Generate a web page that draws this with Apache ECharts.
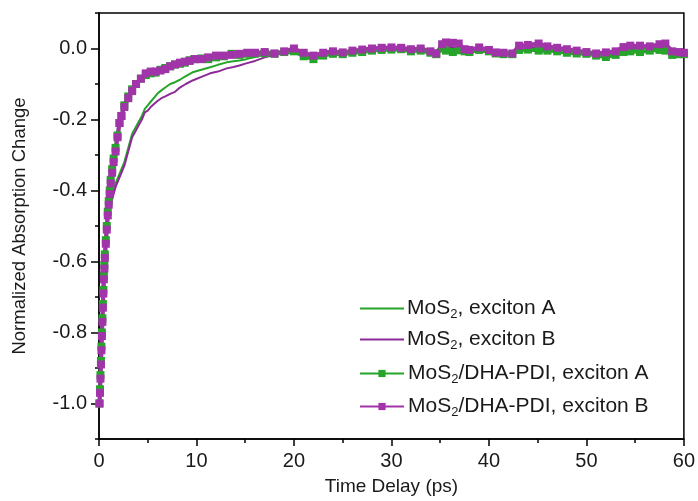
<!DOCTYPE html>
<html>
<head>
<meta charset="utf-8">
<script src="https://cdn.jsdelivr.net/npm/echarts@6/dist/echarts.min.js"></script>
<style>
html,body{margin:0;padding:0;background:#fff;}
#chart{width:698px;height:501px;}
</style>
</head>
<body>
<div id="chart"></div>
<script>
// ---- data (time in ps, normalized absorption change) ----
const seriesNames = ['MoS2, exciton A', 'MoS2, exciton B', 'MoS2/DHA-PDI, exciton A', 'MoS2/DHA-PDI, exciton B'];

const mos2A = [[0.05,-1.0],[0.15,-0.92],[0.25,-0.84],[0.35,-0.75],[0.45,-0.67],[0.55,-0.6],[0.7,-0.54],[0.85,-0.49],[1.0,-0.46],[1.2,-0.43],[1.4,-0.41],[1.7,-0.38],[2.0,-0.36],[2.3,-0.34],[2.6,-0.32],[3.0,-0.28],[3.4,-0.24],[3.7,-0.225],[4.0,-0.21],[4.4,-0.19],[4.7,-0.17],[5.0,-0.16],[5.3,-0.15],[5.7,-0.137],[6.0,-0.127],[6.4,-0.118],[6.8,-0.11],[7.3,-0.1],[7.8,-0.095],[8.3,-0.088],[8.9,-0.078],[9.6,-0.067],[10.5,-0.06],[11.4,-0.053],[12.2,-0.046],[13.1,-0.039],[13.8,-0.036],[14.4,-0.034],[15.1,-0.03],[16,-0.024],[17,-0.018],[18,-0.015],[19,-0.014],[20,-0.012],[22,-0.018],[24,-0.014],[26,-0.01],[28,-0.006],[30,-0.004],[32,-0.006],[34,-0.012],[36,0.0],[38,-0.008],[40,-0.01],[42,-0.014],[44,0.0],[46,-0.002],[48,-0.008],[50,-0.012],[52,-0.016],[54,-0.004],[56,0.0],[58,0.002],[60,-0.014]];

const mos2B = [[0.05,-1.0],[0.15,-0.93],[0.25,-0.85],[0.35,-0.76],[0.45,-0.68],[0.55,-0.61],[0.7,-0.55],[0.85,-0.5],[1.0,-0.47],[1.2,-0.44],[1.4,-0.42],[1.7,-0.39],[2.0,-0.37],[2.3,-0.35],[2.6,-0.33],[3.0,-0.29],[3.4,-0.25],[3.7,-0.235],[4.0,-0.22],[4.4,-0.2],[4.7,-0.18],[5.0,-0.175],[5.3,-0.165],[5.7,-0.155],[6.0,-0.148],[6.4,-0.14],[6.8,-0.135],[7.3,-0.128],[7.8,-0.122],[8.3,-0.11],[8.9,-0.1],[9.6,-0.09],[10.5,-0.08],[11.4,-0.07],[12.2,-0.065],[13.1,-0.056],[13.8,-0.052],[14.4,-0.048],[15.1,-0.042],[16,-0.035],[17,-0.025],[18,-0.018],[19,-0.014],[20,-0.012],[22,-0.016],[24,-0.012],[26,-0.008],[28,-0.004],[30,-0.002],[32,-0.004],[34,-0.01],[36,0.005],[38,-0.006],[40,-0.008],[42,-0.012],[44,0.004],[46,0.002],[48,-0.004],[50,-0.01],[52,-0.012],[54,0.0],[56,0.004],[58,0.006],[60,-0.012]];

const dhaA = [[0.05,-1.0],[0.1,-0.96],[0.15,-0.92],[0.2,-0.88],[0.25,-0.84],[0.3,-0.8],[0.35,-0.76],[0.4,-0.72],[0.45,-0.68],[0.5,-0.64],[0.55,-0.61],[0.6,-0.58],[0.7,-0.54],[0.8,-0.5],[0.9,-0.46],[1.0,-0.43],[1.1,-0.4],[1.2,-0.37],[1.35,-0.34],[1.5,-0.31],[1.7,-0.28],[1.9,-0.245],[2.1,-0.21],[2.3,-0.19],[2.6,-0.16],[3.0,-0.135],[3.4,-0.115],[3.8,-0.1],[4.3,-0.085],[4.8,-0.075],[5.3,-0.07],[5.8,-0.068],[6.3,-0.06],[6.8,-0.055],[7.3,-0.05],[7.8,-0.045],[8.3,-0.043],[8.8,-0.04],[9.3,-0.033],[9.8,-0.03],[10.5,-0.028],[11.2,-0.03],[12,-0.025],[12.8,-0.022],[13.6,-0.015],[14.4,-0.018],[15.2,-0.015],[16,-0.014],[17,-0.013],[18,-0.015],[19,-0.01],[20,-0.008],[21,-0.022],[22,-0.03],[23,-0.02],[24,-0.015],[25,-0.016],[26,-0.012],[27,-0.01],[28,-0.006],[29,-0.004],[30,-0.003],[31,-0.002],[32,-0.008],[33,-0.006],[34,-0.012],[34.6,-0.016],[35.2,0.0],[35.6,-0.006],[36.3,-0.01],[36.9,-0.005],[37.5,-0.008],[38,-0.01],[39,-0.004],[40,-0.008],[40.7,-0.014],[41.5,-0.016],[42.4,-0.016],[43.1,-0.004],[44,-0.003],[45.1,-0.006],[46,-0.006],[47,-0.008],[48,-0.012],[49,-0.014],[50,-0.015],[51,-0.02],[52,-0.024],[53,-0.018],[53.8,-0.01],[54.5,-0.008],[55.5,-0.01],[56.5,-0.006],[57.5,-0.004],[58.1,-0.006],[58.8,-0.018],[59.5,-0.016],[60,-0.016]];

const dhaB = [[0.05,-1.0],[0.1,-0.97],[0.15,-0.93],[0.2,-0.89],[0.25,-0.85],[0.3,-0.81],[0.35,-0.77],[0.4,-0.73],[0.45,-0.69],[0.5,-0.65],[0.55,-0.62],[0.6,-0.59],[0.7,-0.55],[0.8,-0.51],[0.9,-0.47],[1.0,-0.44],[1.1,-0.41],[1.2,-0.38],[1.35,-0.35],[1.5,-0.32],[1.7,-0.29],[1.9,-0.25],[2.1,-0.21],[2.3,-0.19],[2.6,-0.165],[3.0,-0.14],[3.4,-0.12],[3.8,-0.1],[4.3,-0.085],[4.8,-0.07],[5.3,-0.065],[5.8,-0.065],[6.3,-0.062],[6.8,-0.058],[7.3,-0.05],[7.8,-0.045],[8.3,-0.04],[8.8,-0.037],[9.3,-0.035],[9.8,-0.03],[10.5,-0.03],[11.2,-0.025],[12,-0.02],[12.8,-0.02],[13.6,-0.018],[14.4,-0.015],[15.2,-0.012],[16,-0.012],[17,-0.01],[18,-0.014],[19,-0.008],[20,0.0],[21,-0.012],[22,-0.02],[23,-0.012],[24,-0.008],[25,-0.011],[26,-0.006],[27,-0.003],[28,0.0],[29,0.002],[30,0.003],[31,0.002],[32,-0.002],[33,0.0],[34,-0.008],[34.6,-0.014],[35.2,0.012],[35.6,0.017],[36.3,0.016],[36.9,0.014],[37.5,-0.002],[38,-0.004],[39,0.003],[40,-0.004],[40.7,-0.011],[41.5,-0.012],[42.4,-0.014],[43.1,0.008],[44,0.01],[45.1,0.014],[46,0.006],[47,0.002],[48,-0.002],[49,-0.006],[50,-0.01],[51,-0.014],[52,-0.011],[53,-0.008],[53.8,0.004],[54.5,0.008],[55.5,0.008],[56.5,0.006],[57.5,0.012],[58.1,0.014],[58.8,-0.008],[59.5,-0.01],[60,-0.012]];

const yLabelValues = [-1.0, -0.8, -0.6, -0.4, -0.2, 0.0];
const yMinorValues = [-1.1, -0.9, -0.7, -0.5, -0.3, -0.1, 0.1];

// ---- chart ----
const GREEN = '#27a42a';
const PURPLE = '#a234aa';
const PURPLE_THIN = '#8c2a98';
const FONT = 'Liberation Sans, Arial, sans-serif';
const TXT = '#1a1a1a';

const chart = echarts.init(document.getElementById('chart'), null, {renderer: 'canvas'});

function legendFmt(name) {
  return name.replace('MoS2', 'MoS{sub|2}');
}
function legendText(padLeft) {
  return {
    fontFamily: FONT, fontSize: 21, color: TXT, padding: [0, 0, 0, padLeft],
    rich: {
      sub: {fontFamily: FONT, fontSize: 13, color: TXT, verticalAlign: 'bottom', padding: [12, 0, 0, 0]}
    }
  };
}

chart.setOption({
  animation: false,
  backgroundColor: '#fff',
  grid: {left: 99, right: 13, top: 13, bottom: 60, show: true, borderColor: '#000', borderWidth: 1.5, backgroundColor: 'transparent'},
  legend: [{
    orient: 'vertical',
    left: 355, top: 293,
    itemWidth: 44, itemHeight: 2, itemGap: 8,
    icon: 'rect',
    data: seriesNames.slice(0, 2),
    formatter: legendFmt,
    textStyle: legendText(-2)
  }, {
    orient: 'vertical',
    left: 354, top: 358,
    itemWidth: 44, itemHeight: 9, itemGap: 10,
    data: seriesNames.slice(2),
    formatter: legendFmt,
    textStyle: legendText(-1)
  }],
  xAxis: {
    type: 'value', min: 0, max: 60, interval: 10,
    name: 'Time Delay (ps)', nameLocation: 'middle', nameGap: 38,
    nameTextStyle: {fontFamily: FONT, fontSize: 19, color: TXT},
    axisLine: {show: true, onZero: false, lineStyle: {color: '#000', width: 1.5}},
    axisTick: {show: true, inside: false, length: 7, lineStyle: {color: '#000', width: 1.5}},
    minorTick: {show: true, splitNumber: 2, length: 4, lineStyle: {color: '#000', width: 1.5}},
    axisLabel: {fontFamily: FONT, fontSize: 20, color: TXT, margin: 12},
    splitLine: {show: false}
  },
  yAxis: [{
    type: 'value', min: -1.1, max: 0.1,
    name: 'Normalized Absorption Change', nameLocation: 'middle', nameGap: 70,
    nameTextStyle: {fontFamily: FONT, fontSize: 18.5, color: TXT},
    axisLine: {show: true, onZero: false, lineStyle: {color: '#000', width: 1.5}},
    axisTick: {show: true, inside: false, length: 8, customValues: yLabelValues, lineStyle: {color: '#000', width: 1.5}},
    axisLabel: {fontFamily: FONT, fontSize: 20, color: TXT, margin: 12, customValues: yLabelValues,
      formatter: v => v.toFixed(1)},
    splitLine: {show: false}
  }, {
    type: 'value', min: -1.1, max: 0.1, position: 'left',
    axisLine: {show: false, onZero: false},
    axisTick: {show: true, inside: false, length: 4, customValues: yMinorValues, lineStyle: {color: '#000', width: 1.5}},
    axisLabel: {show: false},
    splitLine: {show: false}
  }],
  series: [
    {name: seriesNames[0], type: 'line', data: mos2A, showSymbol: false, symbol: 'none',
      lineStyle: {color: GREEN, width: 2}, itemStyle: {color: GREEN}},
    {name: seriesNames[1], type: 'line', data: mos2B, showSymbol: false, symbol: 'none',
      lineStyle: {color: PURPLE_THIN, width: 2}, itemStyle: {color: PURPLE_THIN}},
    {name: seriesNames[2], type: 'line', data: dhaA, symbol: 'rect', symbolSize: 8, showAllSymbol: true,
      lineStyle: {color: GREEN, width: 4}, itemStyle: {color: GREEN}},
    {name: seriesNames[3], type: 'line', data: dhaB, symbol: 'rect', symbolSize: 8, showAllSymbol: true,
      lineStyle: {color: PURPLE, width: 4}, itemStyle: {color: PURPLE}}
  ]
});
</script>
</body>
</html>
